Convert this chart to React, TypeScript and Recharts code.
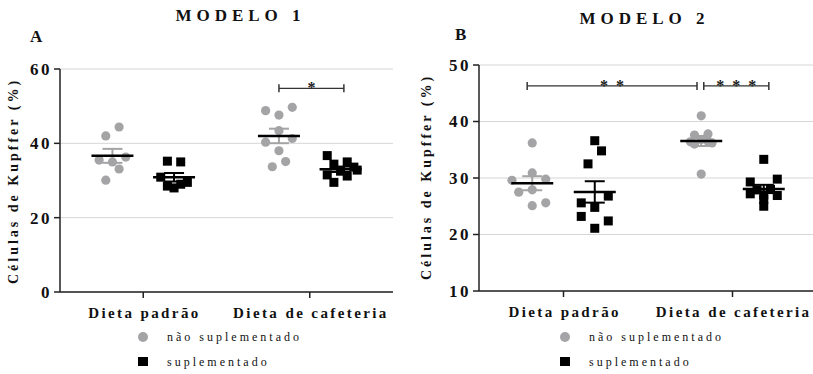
import React from "react";
import { ScatterChart, Scatter, XAxis, YAxis, CartesianGrid, ErrorBar, ReferenceLine } from "recharts";

const categories = ["Dieta padrão", "Dieta de cafeteria"];
const seriesNames = ["não suplementado", "suplementado"];

// MODELO 1 (A)
const m1PadraoNao = [42.0, 44.4, 35.5, 35.0, 36.3, 33.1, 30.1];
const m1PadraoNaoSlot = [-1, 1, -2, 0, 2, 1, -1];
const m1PadraoSup = [35.2, 35.0, 30.9, 29.5, 28.5, 28.0, 29.0];
const m1PadraoSupSlot = [-1, 1, -2, 2, -1, 0, 1];
const m1CafNao = [48.8, 47.6, 49.7, 43.4, 40.3, 41.3, 38.0, 33.7, 35.1];
const m1CafNaoSlot = [-2, 0, 2, 0, -2, 2, 0, -1, 1];
const m1CafSup = [36.7, 34.4, 35.0, 33.6, 32.8, 31.5, 31.2, 29.5, 32.5];
const m1CafSupSlot = [-2, -1, 1, 2, 2.5, -2, 1, -1, 0];

// MODELO 2 (B)
const m2PadraoNao = [36.2, 30.9, 29.6, 29.8, 27.5, 27.9, 25.1, 25.6];
const m2PadraoNaoSlot = [0, 0, -3, 2, -2, 0, 0, 2];
const m2PadraoSup = [36.6, 34.8, 32.5, 25.6, 24.8, 26.8, 23.2, 22.4, 21.1];
const m2PadraoSupSlot = [0, 1, -1, -2, 0, 2, -2, 2, 0];
const m2CafNao = [41.0, 30.7, 37.6, 37.8, 36.8, 36.4, 36.2, 36.5, 36.0];
const m2CafNaoSlot = [0, 0, -1, 1, 0, -1.6, 1.6, 1, -1];
const m2CafSup = [33.3, 29.3, 29.8, 27.9, 28.0, 27.2, 26.9, 26.2, 25.0, 27.0];
const m2CafSupSlot = [0, -2, 2, -1, 1, -2, 2, 0, 0, 0];

const CAT_X = [1, 3];
const SLOT = 0.08;
const OFFSET = 0.37;
const FONT = "'Liberation Serif', 'Times New Roman', serif";
const GRAY = "#a4a4a6";
const INK = "#111";

type Group = { values: number[]; slots: number[]; cat: number; sup: boolean };

const mean = (v: number[]) => v.reduce((a, b) => a + b, 0) / v.length;
const sem = (v: number[]) => {
  const m = mean(v);
  const sd = Math.sqrt(v.reduce((a, b) => a + (b - m) ** 2, 0) / (v.length - 1));
  return sd / Math.sqrt(v.length);
};

const panels = [
  {
    left: 0,
    width: 400,
    margin: { top: 69, right: 7, bottom: 42, left: 0 },
    yWidth: 60,
    domain: [0, 60],
    ticks: [0, 20, 40, 60],
    groups: [
      { values: m1PadraoNao, slots: m1PadraoNaoSlot, cat: 0, sup: false },
      { values: m1PadraoSup, slots: m1PadraoSupSlot, cat: 0, sup: true },
      { values: m1CafNao, slots: m1CafNaoSlot, cat: 1, sup: false },
      { values: m1CafSup, slots: m1CafSupSlot, cat: 1, sup: true },
    ] as Group[],
    brackets: [{ x1: 2.63, x2: 3.41, y: 54.8, text: "*" }],
  },
  {
    left: 410,
    width: 410,
    margin: { top: 65, right: 3, bottom: 43, left: 0 },
    yWidth: 69,
    domain: [10, 50],
    ticks: [10, 20, 30, 40, 50],
    groups: [
      { values: m2PadraoNao, slots: m2PadraoNaoSlot, cat: 0, sup: false },
      { values: m2PadraoSup, slots: m2PadraoSupSlot, cat: 0, sup: true },
      { values: m2CafNao, slots: m2CafNaoSlot, cat: 1, sup: false },
      { values: m2CafSup, slots: m2CafSupSlot, cat: 1, sup: true },
    ] as Group[],
    brackets: [
      { x1: 0.57, x2: 2.58, y: 46.3, text: "* *" },
      { x1: 2.66, x2: 3.43, y: 46.3, text: "* * *" },
    ],
  },
];

const Dot = (p: any) => <circle cx={p.cx} cy={p.cy} r={4.6} fill={GRAY} />;
const Sq = (p: any) => <rect x={p.cx - 4.5} y={p.cy - 4.5} width={9} height={9} fill="#000" />;
const MeanLine = (p: any) => (
  <line x1={p.cx - 21} x2={p.cx + 21} y1={p.cy} y2={p.cy} stroke="#000" strokeWidth={2.5} />
);

const XTick = (p: any) => (
  <text x={p.x + 1.2} y={p.y + 18} textAnchor="middle" fontFamily={FONT} fontWeight="bold"
    fontSize={15} letterSpacing={2.4} fill={INK}>
    {categories[CAT_X.indexOf(p.payload.value)]}
  </text>
);

const YTick = (p: any) => (
  <text x={p.x} y={p.y} dy="0.35em" textAnchor="end" fontFamily={FONT} fontWeight="bold"
    fontSize={17} letterSpacing={2.5} fill={INK}>
    {p.payload.value}
  </text>
);

const bracketShape = (text: string) => (p: any) => {
  const mid = (p.x1 + p.x2) / 2;
  return (
    <g stroke="#333" strokeWidth={1.2}>
      <line x1={p.x1} x2={p.x2} y1={p.y1} y2={p.y2} />
      <line x1={p.x1} x2={p.x1} y1={p.y1 - 4} y2={p.y1 + 4} strokeWidth={1.5} />
      <line x1={p.x2} x2={p.x2} y1={p.y2 - 4} y2={p.y2 + 4} strokeWidth={1.5} />
      <text x={mid + 1} y={p.y1 + 5} textAnchor="middle" stroke="none" fill="#222"
        fontFamily={FONT} fontWeight="bold" fontSize={16} letterSpacing={2}>
        {text}
      </text>
    </g>
  );
};

function Panel({ cfg }: { cfg: (typeof panels)[number] }) {
  const pts = cfg.groups.map((g) => {
    const cx = CAT_X[g.cat] + (g.sup ? OFFSET : -OFFSET);
    return {
      g,
      data: g.values.map((y, i) => ({ x: cx + g.slots[i] * SLOT, y })),
      summary: [{ x: cx, y: mean(g.values), sem: sem(g.values) }],
    };
  });
  return (
    <div style={{ position: "absolute", left: cfg.left, top: 0 }}>
      <ScatterChart width={cfg.width} height={374} margin={cfg.margin}>
        <CartesianGrid vertical={false} stroke="#d6d6d6" />
        <XAxis type="number" dataKey="x" domain={[0, 4]} ticks={CAT_X} interval={0} allowDataOverflow
          height={40} tickSize={6} axisLine={{ stroke: "#222", strokeWidth: 1.5 }}
          tickLine={{ stroke: "#222", strokeWidth: 1.5 }} tick={(p: any) => <XTick {...p} />} />
        <YAxis type="number" dataKey="y" domain={cfg.domain} ticks={cfg.ticks} interval={0} allowDataOverflow
          width={cfg.yWidth} tickSize={6} axisLine={{ stroke: "#222", strokeWidth: 1.5 }}
          tickLine={{ stroke: "#222", strokeWidth: 1.5 }} tick={(p: any) => <YTick {...p} />} />
        {pts.map((p, i) => (
          <Scatter key={"p" + i} data={p.data} shape={p.g.sup ? Sq : Dot} isAnimationActive={false} />
        ))}
        {pts.map((p, i) => (
          <Scatter key={"m" + i} data={p.summary} shape={MeanLine} isAnimationActive={false}>
            <ErrorBar dataKey="sem" direction="y" width={10} strokeWidth={2}
              stroke={p.g.sup ? "#000" : GRAY} />
          </Scatter>
        ))}
        {cfg.brackets.map((b, i) => (
          <ReferenceLine key={"b" + i} segment={[{ x: b.x1, y: b.y }, { x: b.x2, y: b.y }]}
            shape={bracketShape(b.text)} ifOverflow="visible" />
        ))}
      </ScatterChart>
    </div>
  );
}

const txt = { fontFamily: FONT, fill: INK } as const;

export default function App() {
  return (
    <div style={{ position: "absolute", left: 0, top: 0, width: 813, height: 374, overflow: "hidden", background: "#fff" }}>
      <Panel cfg={panels[0]} />
      <Panel cfg={panels[1]} />
      <svg width={813} height={374} style={{ position: "absolute", left: 0, top: 0, pointerEvents: "none" }}>
        <text x={240.5} y={21} textAnchor="middle" fontWeight="bold" fontSize={17} letterSpacing={5} {...txt}>MODELO 1</text>
        <text x={644.5} y={24} textAnchor="middle" fontWeight="bold" fontSize={17} letterSpacing={5} {...txt}>MODELO 2</text>
        <text x={30} y={42} fontWeight="bold" fontSize={17} {...txt}>A</text>
        <text x={455} y={40} fontWeight="bold" fontSize={17} {...txt}>B</text>
        <text transform="translate(18,181) rotate(-90)" textAnchor="middle" fontWeight="bold" fontSize={14}
          letterSpacing={3} {...txt}>Células de Kupffer (%)</text>
        <text transform="translate(431,177) rotate(-90)" textAnchor="middle" fontWeight="bold" fontSize={14}
          letterSpacing={3} {...txt}>Células de Kupffer (%)</text>
        {[143, 565].map((lx, i) => (
          <g key={i}>
            <circle cx={lx} cy={337} r={5} fill={GRAY} />
            <rect x={lx - 5} y={357} width={10} height={9} fill="#000" />
            <text x={lx + 24} y={341} fontSize={12} letterSpacing={3} {...txt}>{seriesNames[0]}</text>
            <text x={lx + 24} y={366} fontSize={12} letterSpacing={3} {...txt}>{seriesNames[1]}</text>
          </g>
        ))}
      </svg>
    </div>
  );
}
